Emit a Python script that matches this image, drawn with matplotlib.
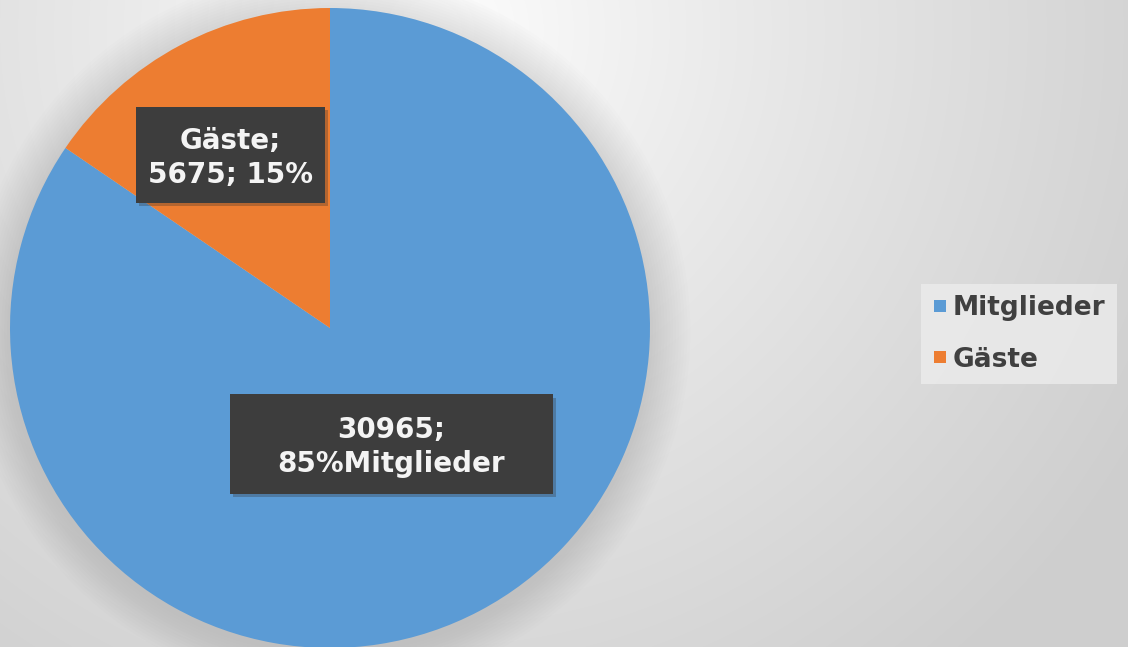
import numpy as np
import matplotlib
matplotlib.use("Agg")
import matplotlib.pyplot as plt
from matplotlib.patches import Rectangle, Circle
from matplotlib.lines import Line2D

# data
categories = ["Mitglieder", "Gäste"]
values = [30965, 5675]
colors = ["#5B9BD5", "#ED7D31"]

W, H = 1128, 647
fig = plt.figure(figsize=(W / 100, H / 100), dpi=100)

# radial background gradient
bg = fig.add_axes([0, 0, 1, 1], zorder=0)
yy, xx = np.mgrid[0:H, 0:W]
d = np.hypot(xx - 430, yy - 30) / 820.0
d = np.clip(d, 0, 1) ** 0.85
shade = 1.0 - 0.19 * d
bg.imshow(np.dstack([shade] * 3), extent=[0, W, H, 0], aspect="auto")
bg.axis("off")

# pie axes: centre (330, 328) px, radius 320 px
cx, cy, R = 330, 328, 320
ax = fig.add_axes([(cx - R) / W, (H - cy - R) / H, 2 * R / W, 2 * R / H], zorder=1)

# soft glow/shadow around the pie
for k in range(14):
    ax.add_patch(Circle((0, -0.01), 1.0 + 0.009 * (k + 1), color="#909090",
                        alpha=0.018, lw=0, zorder=0, clip_on=False))

wedges, _ = ax.pie(values, colors=colors, startangle=90, counterclock=False,
                   radius=1.0, wedgeprops=dict(linewidth=0))
for w in wedges:
    w.set_zorder(2)
    w.set_clip_on(False)

total = sum(values)
pcts = [round(v / total * 100) for v in values]
label_texts = [f"{values[0]};\n{pcts[0]}%{categories[0]}",
               f"{categories[1]};\n{values[1]}; {pcts[1]}%"]
# label placement: radius fraction and angle nudge (deg) from slice middle
label_r = [0.41, 0.625]
label_nudge = [0, 2]
box_size = [(1.01, 0.31), (0.59, 0.30)]

for w, txt, r, dn, (bw, bh) in zip(wedges, label_texts, label_r, label_nudge, box_size):
    ang = np.deg2rad((w.theta1 + w.theta2) / 2 + dn)
    x, y = r * np.cos(ang), r * np.sin(ang)
    ax.add_patch(Rectangle((x - bw / 2 + 0.01, y - bh / 2 - 0.012), bw, bh,
                           facecolor="#303030", alpha=0.3, lw=0, zorder=3))
    ax.add_patch(Rectangle((x - bw / 2, y - bh / 2), bw, bh,
                           facecolor="#3d3d3d", lw=0, zorder=4))
    ax.text(x, y - 0.01, txt, ha="center", va="center", color="#f4f4f4",
            fontsize=20, fontweight="bold", linespacing=1.25, zorder=5)

ax.set_xlim(-1, 1)
ax.set_ylim(-1, 1)
ax.axis("off")

handles = [Line2D([], [], marker="s", linestyle="none", markersize=9,
                  markerfacecolor=c, markeredgewidth=0) for c in colors]
leg = fig.legend(handles, categories, loc="center left",
                 bbox_to_anchor=(908 / W, 1 - 334 / H), frameon=True,
                 fontsize=19, handlelength=0.55, handletextpad=0.2,
                 labelspacing=0.95, borderpad=0.45, fancybox=False)
leg.get_frame().set_facecolor("#ececec")
leg.get_frame().set_edgecolor("none")
leg.set_zorder(6)
for t in leg.get_texts():
    t.set_color("#404040")
    t.set_fontweight("bold")

fig.savefig("out.png", dpi=100)
